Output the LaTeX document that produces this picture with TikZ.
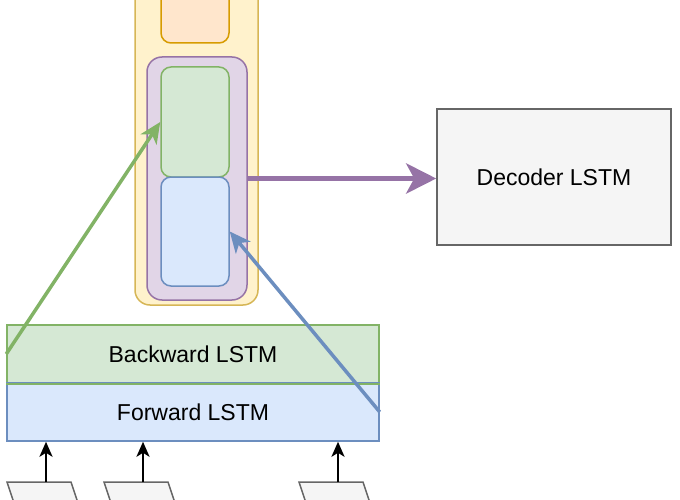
\documentclass[tikz,border=0pt]{standalone}
\usepackage{fontspec}
\setmainfont{Liberation Sans}
\usetikzlibrary{arrows.meta}
\definecolor{yfill}{HTML}{FFF2CC}\definecolor{ydraw}{HTML}{D6B656}
\definecolor{ofill}{HTML}{FFE6CC}\definecolor{odraw}{HTML}{D79B00}
\definecolor{pfill}{HTML}{E1D5E7}\definecolor{pdraw}{HTML}{9673A6}
\definecolor{gfill}{HTML}{D5E8D4}\definecolor{gdraw}{HTML}{82B366}
\definecolor{bfill}{HTML}{DAE8FC}\definecolor{bdraw}{HTML}{6C8EBF}
\definecolor{kfill}{HTML}{F5F5F5}\definecolor{kdraw}{HTML}{666666}
\begin{document}
\begin{tikzpicture}[x=1pt,y=-1pt,
  box/.style={rectangle,inner sep=0pt,line width=1.5pt,font=\fontsize{23}{27}\selectfont},
  arr/.style={line width=3.5pt,-{Stealth[length=21pt,width=19pt,inset=6pt]}},
  inarr/.style={line width=2.5pt,black,-{Stealth[length=15pt,width=13pt,inset=4pt]}}]
\useasboundingbox (0,0) rectangle (680,500);
\clip (0,0) rectangle (680,500);
\node[box,draw=ydraw,fill=yfill,rounded corners=15pt,minimum width=123pt,minimum height=345pt] (outer) at (196.5,132.5) {};
\node[box,draw=odraw,fill=ofill,rounded corners=10pt,minimum width=68pt,minimum height=73pt] (orange) at (195,6.5) {};
\node[box,draw=pdraw,fill=pfill,rounded corners=15pt,minimum width=100pt,minimum height=243pt] (purple) at (197,178.5) {};
\node[box,draw=gdraw,fill=gfill,rounded corners=10pt,minimum width=68pt,minimum height=110pt] (green) at (195,122) {};
\node[box,draw=bdraw,fill=bfill,rounded corners=10pt,minimum width=68pt,minimum height=109pt] (blue) at (195,231.5) {};
\node[box,draw=kdraw,fill=kfill,minimum width=234pt,minimum height=136pt] (dec) at (554,177) {Decoder LSTM};
\node[box,draw=gdraw,fill=gfill,minimum width=372pt,minimum height=58pt] (bw) at (193,354) {Backward LSTM};
\node[box,draw=bdraw,fill=bfill,minimum width=372pt,minimum height=58pt] (fw) at (193,412) {Forward LSTM};
\draw[line width=1.5pt,gdraw] (bw.south west) -- (bw.south east);
% inputs
\foreach \a/\n in {7/p1,104/p2,299/p3}{
  \draw[line width=1.5pt,draw=kdraw,fill=kfill] (\a,482) -- ++(64,0) -- ++(26,78) -- ++(-64,0) -- cycle;
  \coordinate (\n) at (\a+39,482);
}
\draw[inarr] (p1) -- (p1 |- fw.south);
\draw[inarr] (p2) -- (p2 |- fw.south);
\draw[inarr] (p3) -- (p3 |- fw.south);
% connectors
\draw[arr,gdraw] (bw.west) -- (green.west);
\draw[arr,bdraw] (fw.east) -- (blue.east);
\draw[line width=5.5pt,pdraw,-{Stealth[length=30pt,width=30pt,inset=8pt]}] (purple.east) -- (purple.east -| dec.west);
\end{tikzpicture}
\end{document}
